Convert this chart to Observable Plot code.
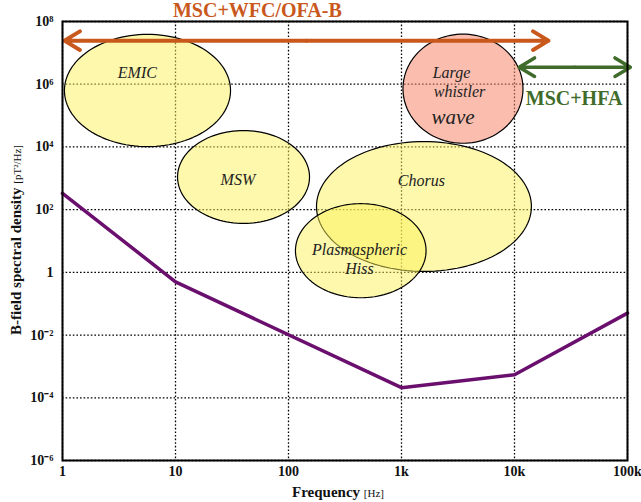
<!DOCTYPE html>
<html><head><meta charset="utf-8">
<script src="https://cdn.jsdelivr.net/npm/d3@7"></script>
<script src="https://cdn.jsdelivr.net/npm/@observablehq/plot@0.6"></script>
<style>body{margin:0;background:#fff}</style>
</head><body><div id="chart"></div>
<script>
// ---- axis ticks ----
const xTicks = [1, 10, 100, 1000, 10000, 100000];
const xTickLabels = ["1", "10", "100", "1k", "10k", "100k"];
const yTicks = [1e-6, 1e-4, 1e-2, 1, 1e2, 1e4, 1e6, 1e8];
const yTickLabels = ["10⁻⁶", "10⁻⁴", "10⁻²", "1", "10²", "10⁴", "10⁶", "10⁸"];

// ---- sensitivity (noise floor) curve ----
const noiseFreq = [1, 10, 1000, 10000, 100000];
const noiseLevel = [330, 0.5, 2.1e-4, 5.4e-4, 0.05];

// ---- wave regions (ellipses in log-log space) ----
const waveNames = ["EMIC", "MSW", "Large whistler wave", "Chorus", "Plasmaspheric Hiss"];
const waveCenterFreq = [5.65, 40, 3500, 1580, 436];
const waveCenterDensity = [6.3e5, 1100, 7.2e5, 126, 4.9];
const waveHalfWidthDecades = [0.735, 0.584, 0.531, 0.951, 0.578];
const waveHalfHeightDecades = [1.79, 1.48, 1.74, 2.07, 1.5];
const waveKind = ["yellow", "yellow", "salmon", "yellow", "yellow"];

// ---- region labels ----
const labelTexts = ["EMIC", "MSW", "Chorus", "Plasmaspheric", "Hiss", "Large", "whistler", "wave"];
const labelFreq = [4.6, 35.7, 1500, 425, 425, 2768, 3260, 2857];
const labelDensity = [2.3e6, 900, 800, 5.4, 1.33, 2.3e6, 5.5e5, 8.7e4];
const labelSize = [16, 16, 16, 16, 16, 16, 16, 21];

// ---- instrument ranges (double arrows) ----
const rangeNames = ["MSC+WFC/OFA-B", "MSC+HFA"];
const rangeFrom = [1.04, 11000];
const rangeTo = [20000, 106000];
const rangeLevel = [2.45e7, 3.5e6];
const rangeColor = ["#c9581c", "#3f6b2b"];
const rangeWidth = [4, 3.5];
const rangeHead = [6.75, 7.7];
const rangeLabelFreq = [53, 33650];
const rangeLabelDensity = [2.2e8, 3.6e5];

// build tables
const ellipsePts = [];
waveNames.forEach((name, i) => {
  const lx = Math.log10(waveCenterFreq[i]), ly = Math.log10(waveCenterDensity[i]);
  for (let k = 0; k < 120; k++) {
    const t = (k / 120) * 2 * Math.PI;
    ellipsePts.push({name, kind: waveKind[i],
      f: 10 ** (lx + waveHalfWidthDecades[i] * Math.cos(t)),
      v: 10 ** (ly + waveHalfHeightDecades[i] * Math.sin(t))});
  }
});
const noise = noiseFreq.map((f, i) => ({f, v: noiseLevel[i]}));
const labels = labelTexts.map((t, i) => ({t, f: labelFreq[i], v: labelDensity[i], s: labelSize[i]}));
const arrowMarks = rangeNames.map((n, i) => {
  const mid = 10 ** ((Math.log10(rangeFrom[i]) + Math.log10(rangeTo[i])) / 2);
  const rows = [{x1: mid, x2: rangeFrom[i], y: rangeLevel[i]}, {x1: mid, x2: rangeTo[i], y: rangeLevel[i]}];
  return Plot.arrow(rows, {x1: "x1", x2: "x2", y1: "y", y2: "y", stroke: rangeColor[i],
    strokeWidth: rangeWidth[i], headLength: rangeHead[i], headAngle: 62});
});
const rangeLabels = rangeNames.map((n, i) => ({t: n, f: rangeLabelFreq[i], v: rangeLabelDensity[i], c: rangeColor[i]}));

const xFmt = new Map(xTicks.map((d, i) => [d, xTickLabels[i]]));
const yFmt = new Map(yTicks.map((d, i) => [d, yTickLabels[i]]));
const serif = "Liberation Serif, Times New Roman, serif";
const dotted = {stroke: "#000", strokeOpacity: 1, strokeWidth: 1.3, strokeDasharray: "1.6,2"};

const chart = Plot.plot({
  width: 641, height: 502,
  marginLeft: 62, marginRight: 14, marginTop: 21, marginBottom: 42,
  style: {fontFamily: serif, background: "#fff"},
  x: {type: "log", domain: [1, 1e5]},
  y: {type: "log", domain: [1e-6, 1e8]},
  marks: [
    Plot.gridX(xTicks, dotted),
    Plot.gridY(yTicks, dotted),
    Plot.line(ellipsePts.filter(d => d.kind === "yellow"), {x: "f", y: "v", z: "name", curve: "linear-closed",
      fill: "#fbf25a", fillOpacity: 0.5, stroke: "#000", strokeWidth: 1.2}),
    Plot.line(ellipsePts.filter(d => d.kind === "salmon"), {x: "f", y: "v", z: "name", curve: "linear-closed",
      fill: "#f5876c", fillOpacity: 0.55, stroke: "#000", strokeWidth: 1.2}),
    Plot.line(noise, {x: "f", y: "v", stroke: "#6b0f6e", strokeWidth: 3.5}),
    ...arrowMarks,
    Plot.text(labels, {x: "f", y: "v", text: "t", fontSize: "s", fontStyle: "italic", fill: "#222"}),
    Plot.text(rangeLabels, {x: "f", y: "v", text: "t", fill: "c", fontSize: 20, fontWeight: "bold"}),
    Plot.axisX(xTicks, {tickSize: 0, tickPadding: 6, tickFormat: d => xFmt.get(d), fontSize: 14,
      fontWeight: "bold", label: null, fill: "#111"}),
    Plot.axisY(yTicks, {tickSize: 0, tickPadding: 9, tickFormat: d => yFmt.get(d), fontSize: 14,
      fontWeight: "bold", label: null, fill: "#111"}),
    Plot.frame({stroke: "#000", strokeWidth: 2})
  ]
});
document.getElementById("chart").append(chart);

// axis titles with mixed styling
const svg = d3.select(chart);
const xt = svg.append("text").attr("x", 338).attr("y", 497).attr("text-anchor", "middle")
  .attr("font-family", serif).attr("fill", "#111");
xt.append("tspan").attr("font-weight", "bold").attr("font-size", 15).text("Frequency ");
xt.append("tspan").attr("font-size", 11).text("[Hz]");
const yt = svg.append("text").attr("transform", "translate(21,240) rotate(-90)").attr("text-anchor", "middle")
  .attr("font-family", serif).attr("fill", "#111");
yt.append("tspan").attr("font-weight", "bold").attr("font-size", 15).text("B-field spectral density ");
yt.append("tspan").attr("font-size", 11).text("[pT²/Hz]");
</script>
</body></html>
